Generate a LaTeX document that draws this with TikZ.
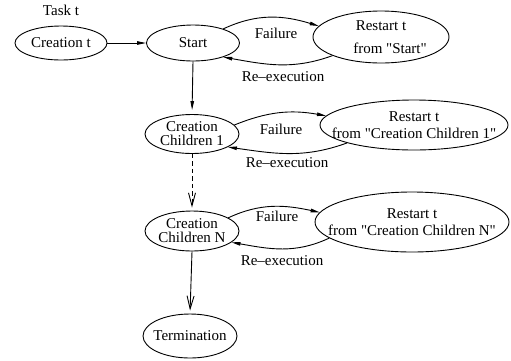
\documentclass[tikz,border=0pt]{standalone}
\usepackage{fontspec}
\setmainfont{Liberation Serif}[Ligatures=TeXOff]
\usetikzlibrary{shapes.geometric,arrows.meta}
\begin{document}
\begin{tikzpicture}[x=1pt,y=-1pt,
  line width=0.9pt,
  state/.style={ellipse,draw,inner sep=0pt},
  txt/.style={inner sep=0pt,align=center,font=\fontsize{15}{14}\selectfont},
  lbl/.style={inner sep=0pt,font=\fontsize{15}{16}\selectfont},
  flow/.style={-{Triangle[length=9pt,width=3.5pt]}},
  drop/.style={-{Straight Barb[length=13pt,width=7pt]},shorten >=3pt},
  loopback/.style={-{Triangle[length=9pt,width=3.5pt]}}
]
\useasboundingbox (0,0) rectangle (511,360);

% task title and the main chain of states
\node[lbl] (title) at (61,10) {Task t};
\node[state,minimum width=92pt,minimum height=34pt,
  label={[txt]center:Creation t}] (ct) at (61,43) {};
\node[state,minimum width=93pt,minimum height=36pt,
  label={[txt]center:Start}] (start) at (193,43) {};
\node[state,minimum width=94pt,minimum height=39pt,
  label={[txt]center:Creation\\Children 1}] (cc1) at (192,134) {};
\node[state,minimum width=94pt,minimum height=40pt,
  label={[txt]center:Creation\\Children N}] (ccn) at (192,231) {};
\node[state,minimum width=94pt,minimum height=44pt,
  label={[txt]center:Termination}] (term) at (190,336) {};

% restart states
\node[state,minimum width=136pt,minimum height=52pt,
  label={[txt,font=\fontsize{15}{23}\selectfont]center:Restart t\\ \hspace*{18pt}from "Start"}] (rs) at (381,37) {};
\node[state,minimum width=188pt,minimum height=50pt,
  label={[txt,font=\fontsize{15}{17}\selectfont]center:Restart t\\from "Creation Children 1"}] (r1) at (414,125) {};
\node[state,minimum width=194pt,minimum height=60pt,
  label={[txt,font=\fontsize{15}{17}\selectfont]center:Restart t\\from "Creation Children N"}] (rn) at (412,222) {};

% main chain
\draw[flow] (ct.east) -- (start.west);
\draw[flow,shorten >=4pt] (start.south) -- (cc1.north);
\draw[drop,dashed,dash pattern=on 4.5pt off 3pt] (cc1.south) -- (ccn.north);
\draw[drop] (ccn.south) -- (term.north);

% failure / re-execution loops
\draw[loopback] (start.25) to[out=25,in=163] (rs.170);
\draw[loopback] (rs.201) to[out=200,in=-10] (start.-25);
\draw[loopback] (cc1.12) to[out=22,in=170] (r1.174);
\draw[loopback] (r1.195) to[out=200,in=-8] (cc1.-20);
\draw[loopback] (ccn.20) to[out=25,in=168] (rn.174);
\draw[loopback] (rn.191) to[out=205,in=-10] (ccn.-16);

% loop labels
\node[lbl] (f0) at (276,33) {Failure};
\node[lbl] (e0) at (283,77) {Re–execution};
\node[lbl] (f1) at (281,129) {Failure};
\node[lbl] (e1) at (287,163) {Re–execution};
\node[lbl] (f2) at (277,216) {Failure};
\node[lbl] (e2) at (282,261) {Re–execution};
\end{tikzpicture}
\end{document}
